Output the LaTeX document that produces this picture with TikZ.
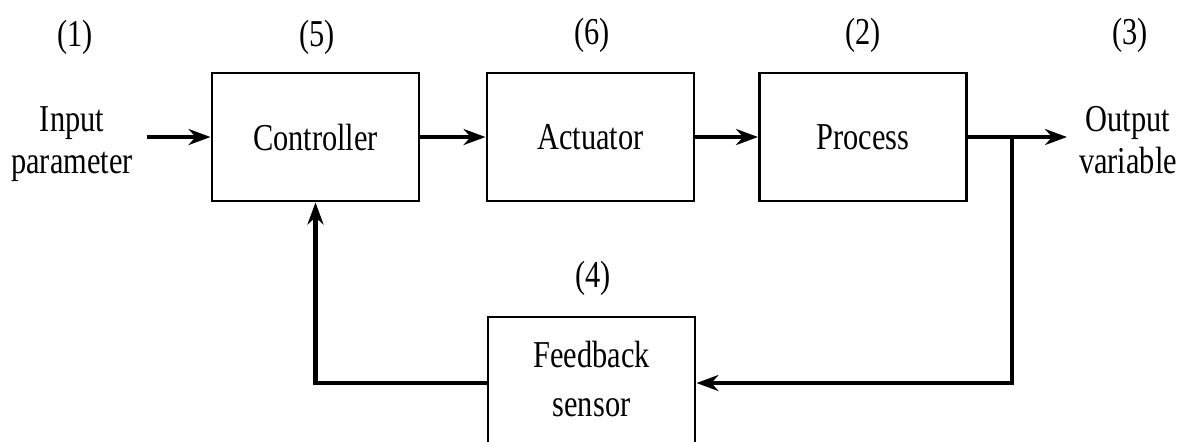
\documentclass[tikz,border=0pt]{standalone}
\usepackage{fontspec}
\setmainfont{Liberation Serif}[FakeStretch=0.8]
\usetikzlibrary{arrows.meta}
\begin{document}
\begin{tikzpicture}[x=0.01cm, y=-0.01cm,
  block/.style={draw, line width=0.8pt, minimum width=2.07cm, minimum height=1.28cm,
                inner sep=0pt, font=\fontsize{10.8}{13}\selectfont},
  tag/.style={font=\fontsize{10.8}{13}\selectfont, inner sep=0pt},
  sig/.style={line width=1.3pt, -{Stealth[length=2.2mm, width=1.6mm]}}]
  \useasboundingbox (0,0) rectangle (1184,441);
  \clip (0,0) rectangle (1184,441);

  % forward path blocks
  \node[block] (ctrl) at (315.5,137) {Controller};
  \node[block] (act)  at (590.5,137) {Actuator};
  \node[block] (proc) at (863,137)   {Process};
  % feedback block runs past the lower edge
  \node[block, minimum height=1.32cm] (fb) at (591.5,383)
    {\begin{tabular}{@{}c@{}}Feedback\\[1pt] sensor\end{tabular}};

  % numbered labels
  \node[tag] (n1) at (75,37)   {(1)};
  \node[tag] (n5) at (317,37)  {(5)};
  \node[tag] (n6) at (592,35)  {(6)};
  \node[tag] (n2) at (863,35)  {(2)};
  \node[tag] (n3) at (1130,35) {(3)};
  \node[tag] (n4) at (593,278) {(4)};

  % terminal texts
  \node[tag] (inp) at (72,143)
    {\begin{tabular}{@{}c@{}}Input\\[-1pt] parameter\end{tabular}};
  \node[tag] (outp) at (1128,143)
    {\begin{tabular}{@{}c@{}}Output\\[-1pt] variable\end{tabular}};

  \coordinate (in)  at (147,137);
  \coordinate (out) at (1067,137);
  \coordinate (br)  at (1012,137);

  % signal connectors
  \draw[sig] (in) -- (ctrl.west);
  \draw[sig] (ctrl.east) -- (act.west);
  \draw[sig] (act.east) -- (proc.west);
  \draw[sig] (proc.east) -- (out);
  \draw[sig] (br) |- (fb.east);
  \draw[sig] (fb.west) -| (ctrl.south);
\end{tikzpicture}
\end{document}
